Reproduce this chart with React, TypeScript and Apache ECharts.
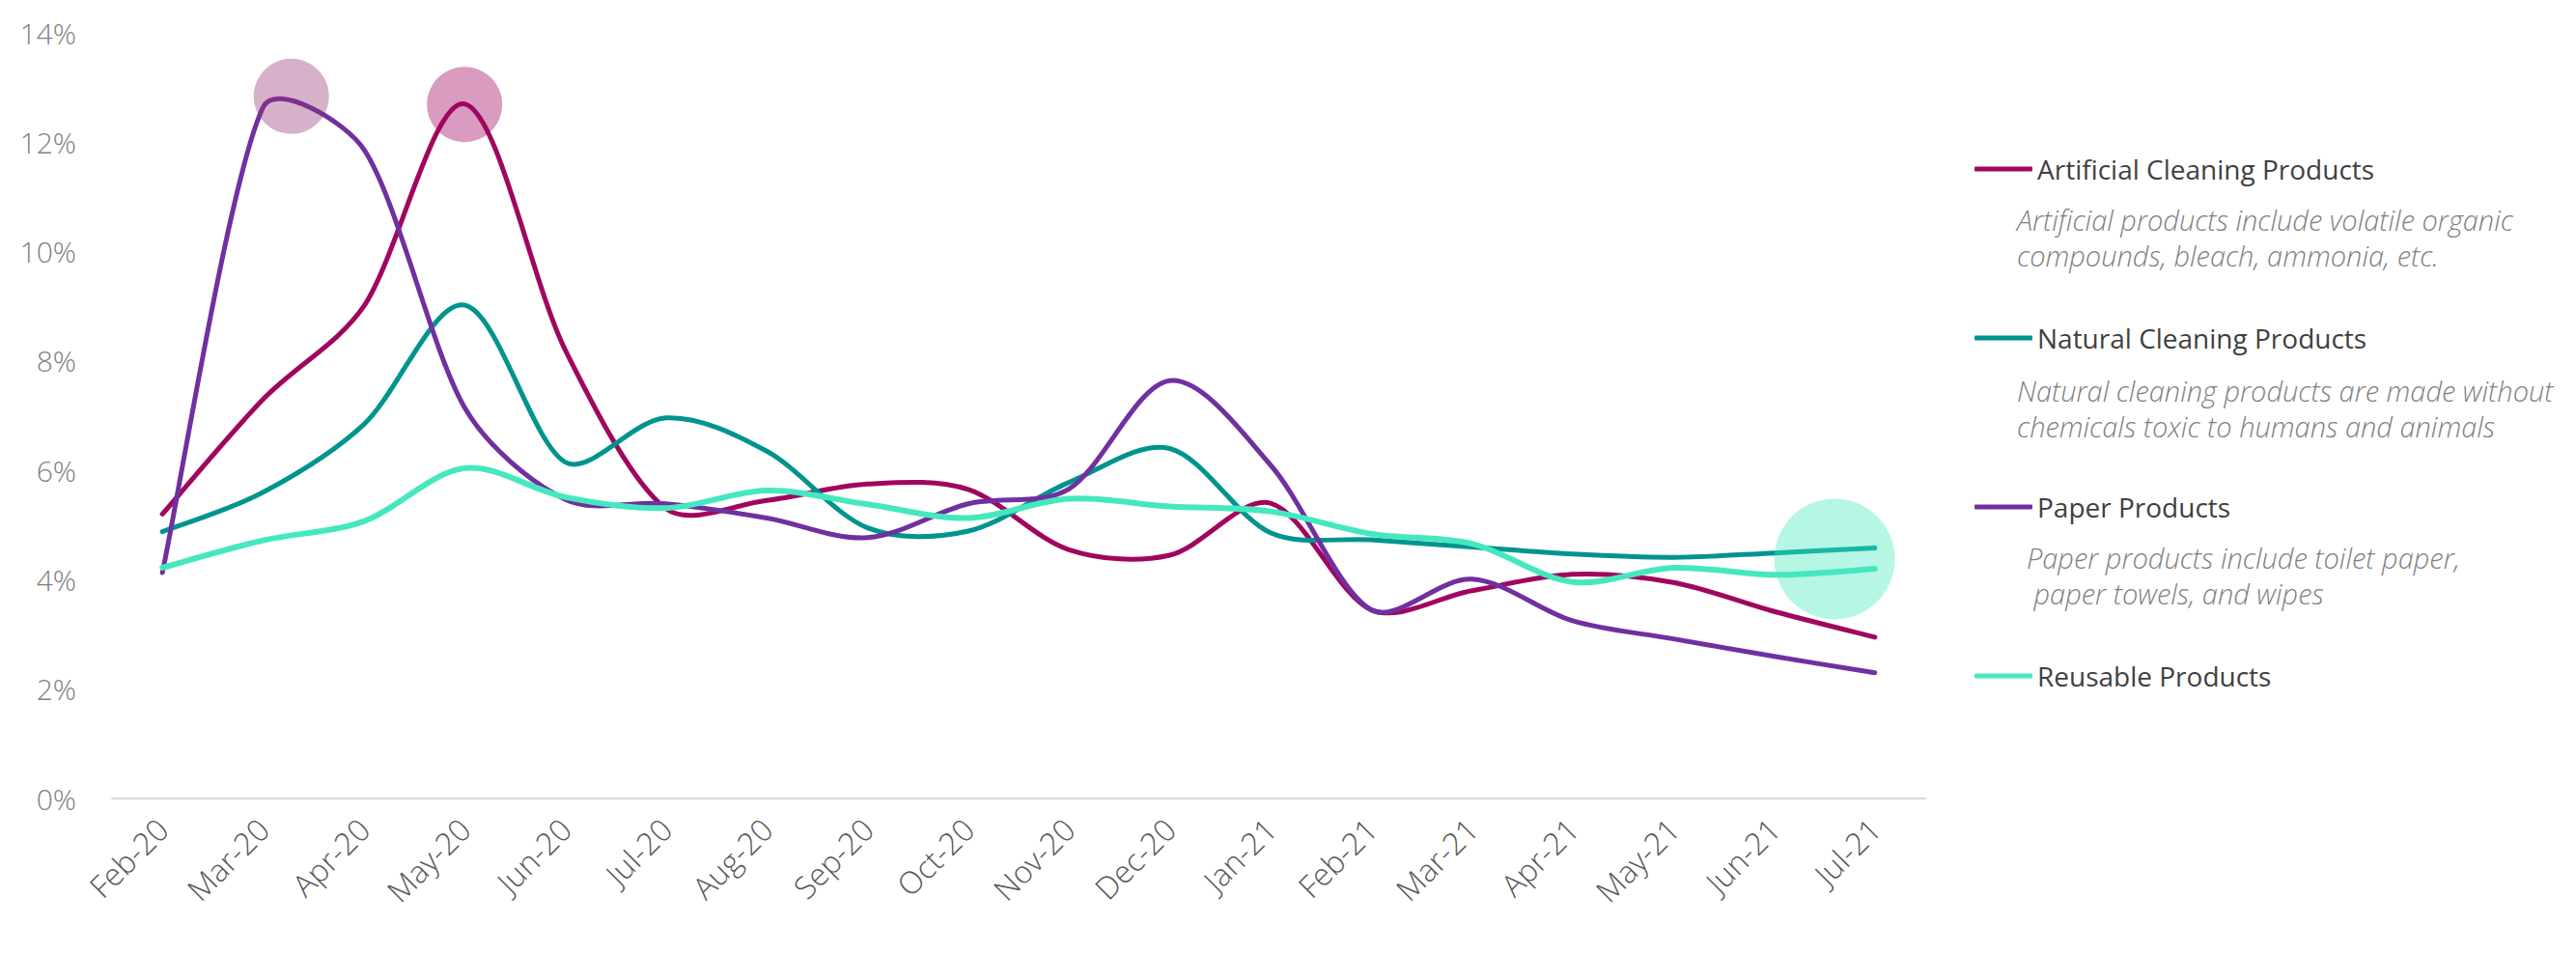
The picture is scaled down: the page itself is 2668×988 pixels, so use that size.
import React, { useEffect, useRef } from "react";
import * as echarts from "echarts";

const MONTHS = [
  "Feb-20", "Mar-20", "Apr-20", "May-20", "Jun-20", "Jul-20", "Aug-20", "Sep-20", "Oct-20",
  "Nov-20", "Dec-20", "Jan-21", "Feb-21", "Mar-21", "Apr-21", "May-21", "Jun-21", "Jul-21",
];

const SERIES_NAMES = [
  "Artificial Cleaning Products",
  "Natural Cleaning Products",
  "Paper Products",
  "Reusable Products",
];

const ARTIFICIAL = [5.2, 7.3, 9.0, 12.7, 8.2, 5.3, 5.45, 5.75, 5.65, 4.55, 4.45, 5.4, 3.45, 3.8, 4.1, 3.95, 3.42, 2.95];
const NATURAL = [4.88, 5.6, 6.84, 9.02, 6.15, 6.96, 6.35, 4.95, 4.89, 5.78, 6.4, 4.86, 4.73, 4.6, 4.47, 4.41, 4.49, 4.58];
const PAPER = [4.13, 12.64, 11.87, 7.15, 5.47, 5.39, 5.13, 4.77, 5.39, 5.66, 7.64, 6.1, 3.45, 4.01, 3.25, 2.92, 2.6, 2.3];
const REUSABLE = [4.22, 4.72, 5.07, 6.04, 5.51, 5.31, 5.63, 5.38, 5.13, 5.48, 5.34, 5.25, 4.84, 4.66, 3.96, 4.22, 4.09, 4.2];

const DESCRIPTIONS = [
  "Artificial products include volatile organic\ncompounds, bleach, ammonia, etc.",
  "Natural cleaning products are made without\nchemicals toxic to humans and animals",
  "Paper products include toilet paper,\n paper towels, and wipes",
];

// highlight bubbles: position in category index units and value (%)
const HIGHLIGHT_X = [1.28, 3.0, 16.6];
const HIGHLIGHT_Y = [12.84, 12.69, 4.38];

const Y_TICKS_MAX = 14;
const Y_INTERVAL = 2;

const COLORS = ["#A0065F", "#00948F", "#7030A0", "#45E8BE"];
const LINE_WIDTHS = [5, 5, 5, 6];
const HIGHLIGHT_COLORS = ["rgba(144,51,113,0.47)", "rgba(160,6,95,0.5)", "rgba(69,232,190,0.5)"];
const HIGHLIGHT_SIZES = [78, 78, 125];

const FONT = "'Open Sans', 'Noto Sans', sans-serif";

function dist(a: number[], b: number[]) {
  return Math.hypot(a[0] - b[0], a[1] - b[1]);
}

// spreadsheet-style smoothed curve through pixel points
function smoothPath(pts: number[][]): string {
  const n = pts.length;
  let d = `M${pts[0][0]},${pts[0][1]}`;
  for (let i = 0; i < n - 1; i++) {
    const p0 = pts[Math.max(i - 1, 0)];
    const p1 = pts[i];
    const p2 = pts[i + 1];
    const p3 = pts[Math.min(i + 2, n - 1)];
    const dA = dist(p0, p1);
    const dB = dist(p1, p2);
    const dC = dist(p2, p3);
    const fOut = i === 0 ? 1 : Math.min(1, (2 * dB) / (dA + dB));
    const fIn = i + 1 === n - 1 ? 1 : Math.min(1, (2 * dB) / (dB + dC));
    const c1x = p1[0] + ((p2[0] - p0[0]) / 6) * fOut;
    const c1y = p1[1] + ((p2[1] - p0[1]) / 6) * fOut;
    const c2x = p2[0] - ((p3[0] - p1[0]) / 6) * fIn;
    const c2y = p2[1] - ((p3[1] - p1[1]) / 6) * fIn;
    d += ` C${c1x},${c1y} ${c2x},${c2y} ${p2[0]},${p2[1]}`;
  }
  return d;
}

export default function App() {
  const ref = useRef<HTMLDivElement>(null);

  useEffect(() => {
    if (!ref.current) return;
    const chart = echarts.init(ref.current, undefined, { renderer: "svg" });
    const seriesData = [ARTIFICIAL, NATURAL, PAPER, REUSABLE];

    const lineSeries = SERIES_NAMES.map((name, i) => ({
      name,
      type: "custom",
      coordinateSystem: "cartesian2d",
      xAxisIndex: 0,
      yAxisIndex: 0,
      silent: true,
      clip: false,
      z: 2 + i * 0.01,
      itemStyle: { color: COLORS[i] },
      data: seriesData[i].map((v, j) => [j, v]),
      renderItem: (params: any, api: any) => {
        if (params.dataIndex !== 0) return null;
        const pts = seriesData[i].map((v, j) => api.coord([j, v]));
        return {
          type: "path",
          shape: { pathData: smoothPath(pts) },
          style: {
            fill: "none",
            stroke: COLORS[i],
            lineWidth: LINE_WIDTHS[i],
            lineCap: "round",
            lineJoin: "round",
          },
        };
      },
    }));

    const highlightSeries = {
      type: "scatter",
      xAxisIndex: 1,
      yAxisIndex: 0,
      silent: true,
      z: 5,
      data: HIGHLIGHT_X.map((x, i) => ({
        value: [x, HIGHLIGHT_Y[i]],
        symbolSize: HIGHLIGHT_SIZES[i],
        itemStyle: { color: HIGHLIGHT_COLORS[i] },
      })),
    };

    const descTops = [209, 386, 559];
    const descLefts = [2089, 2089, 2099];

    chart.setOption({
      animation: false,
      backgroundColor: "#ffffff",
      color: COLORS,
      grid: { left: 116, right: 674, top: 34, bottom: 161, containLabel: false },
      xAxis: [
        {
          type: "category",
          data: MONTHS,
          boundaryGap: true,
          axisLine: { show: true, lineStyle: { color: "#D9D9D9", width: 2 } },
          axisTick: { show: false },
          axisLabel: {
            rotate: 45,
            margin: 26,
            fontSize: 32,
            color: "#595959",
            fontFamily: FONT,
            fontWeight: 300,
            interval: 0,
          },
          splitLine: { show: false },
        },
        {
          type: "value",
          min: -0.5,
          max: MONTHS.length - 0.5,
          show: false,
          splitLine: { show: false },
        },
      ],
      yAxis: {
        type: "value",
        min: 0,
        max: Y_TICKS_MAX,
        interval: Y_INTERVAL,
        axisLine: { show: false },
        axisTick: { show: false },
        splitLine: { show: false },
        axisLabel: {
          formatter: "{value}%",
          fontSize: 30,
          color: "#808080",
          fontFamily: FONT,
          fontWeight: 300,
          margin: 37,
        },
      },
      legend: {
        orient: "vertical",
        left: 2040,
        top: 151,
        itemWidth: 60,
        itemHeight: 5,
        itemGap: 137,
        icon: "roundRect",
        data: SERIES_NAMES.map((name, i) => ({ name, itemStyle: { color: COLORS[i] } })),
        selectedMode: false,
        textStyle: {
          fontSize: 28,
          color: "#3F3F3F",
          fontFamily: FONT,
          lineHeight: 38,
          padding: [0, 0, 0, 0],
        },
      },
      graphic: DESCRIPTIONS.map((d, i) => ({
        type: "text",
        left: descLefts[i],
        top: descTops[i],
        silent: true,
        style: {
          text: d,
          fontSize: 29,
          fontStyle: "italic",
          fontWeight: 300,
          fontFamily: FONT,
          fill: "#7F7F7F",
          lineHeight: 37,
        },
      })),
      series: [...lineSeries, highlightSeries],
    });

    return () => chart.dispose();
  }, []);

  return (
    <div
      ref={ref}
      style={{ position: "fixed", left: 0, top: 0, width: "2668px", height: "988px" }}
    />
  );
}
